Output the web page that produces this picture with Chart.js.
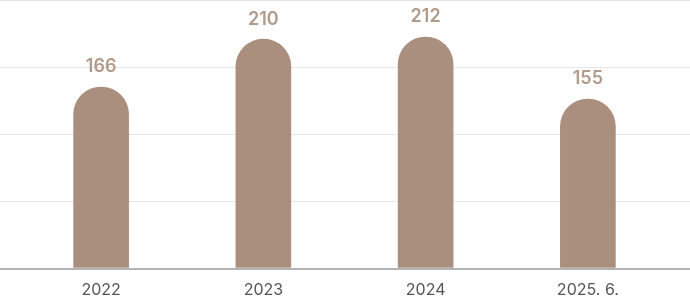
<!DOCTYPE html>
<html>
<head>
<meta charset="utf-8">
<script src="https://cdn.jsdelivr.net/npm/chart.js@4"></script>
<style>
  html, body { margin: 0; padding: 0; background: #ffffff; }
  #wrap { width: 690px; height: 300px; position: relative; }
</style>
</head>
<body>
<div id="wrap"><canvas id="c" width="690" height="300"></canvas></div>
<script>
const categories = ["2022", "2023", "2024", "2025. 6."];
const values = [166, 210, 212, 155];
const axisMax = 246;
const gridSteps = 4;

const barColor = "#aa8f7f";
const labelColor = "#b09a8a";

const fullWidthGrid = {
  id: "fullWidthGrid",
  beforeDatasetsDraw(chart) {
    const ctx = chart.ctx;
    const y = chart.scales.y;
    ctx.save();
    ctx.strokeStyle = "#e6e6e6";
    ctx.lineWidth = 1;
    for (let i = 1; i <= gridSteps; i++) {
      const v = axisMax * i / gridSteps;
      let py = Math.round(y.getPixelForValue(v)) + 0.5;
      if (py < 0.5) py = 0.5;
      ctx.beginPath();
      ctx.moveTo(0, py);
      ctx.lineTo(chart.width, py);
      ctx.stroke();
    }
    ctx.restore();
  },
  afterDatasetsDraw(chart) {
    const ctx = chart.ctx;
    const y = chart.scales.y;
    const py = y.getPixelForValue(0);
    ctx.save();
    ctx.fillStyle = "#b3b3b3";
    ctx.fillRect(0, Math.round(py), chart.width, 2);
    // value labels
    const meta = chart.getDatasetMeta(0);
    ctx.fillStyle = labelColor;
    ctx.font = "600 18px Inter";
    ctx.textAlign = "center";
    ctx.textBaseline = "alphabetic";
    meta.data.forEach((bar, i) => {
      ctx.fillText(String(values[i]), bar.x, bar.y - 14.6);
    });
    ctx.restore();
  }
};

new Chart(document.getElementById("c"), {
  type: "bar",
  data: {
    labels: categories,
    datasets: [{
      data: values,
      backgroundColor: barColor,
      barThickness: 55,
      borderRadius: { topLeft: 27.5, topRight: 27.5, bottomLeft: 0, bottomRight: 0 },
      borderSkipped: false
    }]
  },
  options: {
    responsive: false,
    animation: false,
    devicePixelRatio: 1,
    layout: { padding: { left: 20, right: 21, top: 0, bottom: -13 } },
    plugins: { legend: { display: false }, tooltip: { enabled: false } },
    scales: {
      x: {
        grid: { display: false, drawTicks: false },
        border: { display: false },
        ticks: { color: "#555555", font: { family: "Inter", size: 16 }, padding: 13 }
      },
      y: {
        display: false,
        min: 0,
        max: axisMax
      }
    }
  },
  plugins: [fullWidthGrid]
});
</script>
</body>
</html>
